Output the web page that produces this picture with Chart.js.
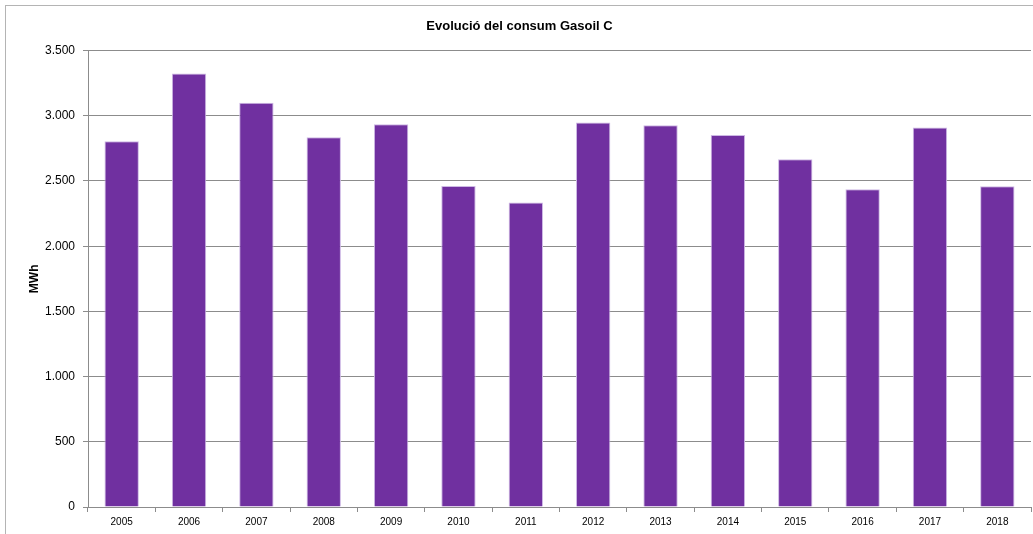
<!DOCTYPE html>
<html>
<head>
<meta charset="utf-8">
<script src="https://cdn.jsdelivr.net/npm/chart.js@4/dist/chart.umd.min.js"></script>
<style>
  html, body { margin: 0; padding: 0; background: #fff; overflow: hidden; }
  #frame { position: absolute; left: 5px; top: 5px; width: 1100px; height: 600px; border: 1px solid #b4b4b4; }
  #wrap { position: absolute; left: 0; top: 0; width: 1033px; height: 534px; }
</style>
</head>
<body>
<div id="frame"></div>
<div id="wrap"><canvas id="myChart" width="1033" height="534"></canvas></div>
<script>
const years = ['2005', '2006', '2007', '2008', '2009', '2010', '2011', '2012', '2013', '2014', '2015', '2016', '2017', '2018'];
const consumMWh = [2805, 3325, 3100, 2835, 2935, 2462, 2335, 2948, 2927, 2853, 2667, 2437, 2910, 2460];
const yTicks = [0, 500, 1000, 1500, 2000, 2500, 3000, 3500];

const gridGray = '#8c8c8c';

// thousands separator with a dot, like the original (3.500)
function dotFormat(v) {
  return String(v).replace(/\B(?=(\d{3})+(?!\d))/g, '.');
}

const chartCanvas = document.getElementById('myChart');

new Chart(chartCanvas, {
  type: 'bar',
  data: {
    labels: years,
    datasets: [{
      label: 'Gasoil C',
      data: consumMWh,
      backgroundColor: '#7030a0',
      borderColor: '#cdb8e4',
      borderWidth: { top: 1, left: 1, right: 1, bottom: 0 },
      barPercentage: 0.51,
      categoryPercentage: 1
    }]
  },
  options: {
    responsive: false,
    animation: false,
    layout: { padding: { left: 8, right: 2, top: 0, bottom: 0 } },
    plugins: {
      legend: { display: false },
      tooltip: { enabled: false },
      title: {
        display: true,
        text: 'Evolució del consum Gasoil C',
        color: '#000',
        font: { family: 'Liberation Sans, Arial, sans-serif', size: 13, weight: 'bold' },
        padding: { top: 19, bottom: 16 }
      }
    },
    scales: {
      x: {
        grid: {
          offset: true,
          drawOnChartArea: false,
          tickLength: 5,
          color: gridGray
        },
        border: { color: gridGray },
        ticks: {
          color: '#000',
          padding: 4,
          maxRotation: 0,
          font: { family: 'Liberation Sans, Arial, sans-serif', size: 10 }
        },
        afterFit: scale => { scale.height = 27; }
      },
      y: {
        min: 0,
        max: 3500,
        afterBuildTicks: scale => { scale.ticks = yTicks.map(v => ({ value: v })); },
        grid: { color: gridGray, tickLength: 5 },
        border: { color: gridGray },
        ticks: {
          color: '#000',
          padding: 8,
          font: { family: 'Liberation Sans, Arial, sans-serif', size: 12 },
          callback: v => dotFormat(v)
        },
        title: {
          display: true,
          text: 'MWh',
          color: '#000',
          font: { family: 'Liberation Sans, Arial, sans-serif', size: 12, weight: 'bold' },
          padding: { top: 19, bottom: 0 }
        },
        afterFit: scale => { scale.width = 80; }
      }
    }
  }
});
</script>
</body>
</html>
